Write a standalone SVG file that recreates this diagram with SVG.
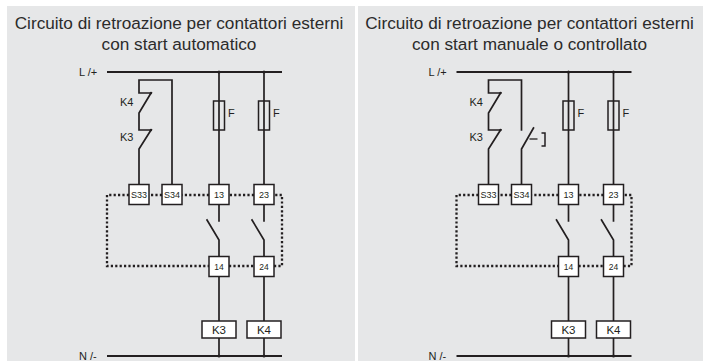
<svg xmlns="http://www.w3.org/2000/svg" width="703" height="361" viewBox="0 0 703 361">
<style>
.bg{fill:#e6e7e8}
.t{font-family:"Liberation Sans",Arial,sans-serif;fill:#231f20}
.title{font-size:17.2px;text-anchor:middle;fill:#2b2b2b}
.w{fill:none;stroke:#231f20;stroke-width:1.7;stroke-linecap:square}
.bus{fill:none;stroke:#231f20;stroke-width:2}
.box{fill:#fff;stroke:#231f20;stroke-width:1.5}
.fuse{fill:none;stroke:#231f20;stroke-width:1.5}
.dot{fill:none;stroke:#231f20;stroke-width:2.3;stroke-dasharray:2.2 2.2}
.lbl{font-size:11px}
.bl{font-size:9px;text-anchor:middle}
.kl{font-size:11.5px;text-anchor:middle}
</style>
<rect class="bg" x="7" y="6" width="348" height="355"/>
<rect class="bg" x="358" y="6" width="345" height="355"/>
<text class="t title" x="179" y="29">Circuito di retroazione per contattori esterni</text>
<text class="t title" x="179" y="50">con start automatico</text>
<text class="t title" x="529.5" y="29">Circuito di retroazione per contattori esterni</text>
<text class="t title" x="529.5" y="50">con start manuale o controllato</text>

<g id="left">
 <g id="connectors-left">
  <line class="bus" x1="107" y1="72" x2="282" y2="72"/>
  <line class="bus" x1="107" y1="356" x2="282" y2="356"/>
  <path class="dot" d="M129 195 H107 V266 H209 M229 266 H254 M274 266 H282 V195 H274 M254 195 H229 M209 195 H182 M162 195 H149"/>
  <path class="w" d="M139 184 V149 L151 130 H139 V113 L151 93 H139 V80 H172 V184"/>
  <path class="w" d="M219 72 V184 M219 204 V221 M207 220 L219 240 V256 M219 276 V321 M219 338 V356"/>
  <path class="w" d="M264 72 V184 M264 204 V221 M252 220 L264 240 V256 M264 276 V321 M264 338 V356"/>
  <circle cx="151" cy="93" r="1.2" fill="#231f20"/>
  <circle cx="151" cy="130" r="1.2" fill="#231f20"/>
  <circle cx="219" cy="72" r="1.5" fill="#231f20"/>
  <circle cx="264" cy="72" r="1.5" fill="#231f20"/>
  <circle cx="219" cy="356" r="1.5" fill="#231f20"/>
  <circle cx="264" cy="356" r="1.5" fill="#231f20"/>
 </g>
 <text class="t lbl" x="79" y="76">L /+</text>
 <text class="t lbl" x="79" y="360">N /-</text>
 <text class="t lbl" x="120" y="106">K4</text>
 <text class="t lbl" x="120" y="141">K3</text>
 <g id="fuse1"><rect class="fuse" x="213.5" y="101" width="11" height="29"/><text class="t lbl" x="228" y="117">F</text></g>
 <g id="fuse2"><rect class="fuse" x="258.5" y="101" width="11" height="29"/><text class="t lbl" x="273" y="117">F</text></g>
 <g id="S33"><rect class="box" x="129" y="184.5" width="20" height="20"/><text class="t bl" x="139" y="198">S33</text></g>
 <g id="S34"><rect class="box" x="162" y="184.5" width="20" height="20"/><text class="t bl" x="172" y="198">S34</text></g>
 <g id="T13"><rect class="box" x="209" y="184.5" width="20" height="20"/><text class="t bl" x="219" y="198">13</text></g>
 <g id="T23"><rect class="box" x="254" y="184.5" width="20" height="20"/><text class="t bl" x="264" y="198">23</text></g>
 <g id="T14"><rect class="box" x="209" y="256.5" width="20" height="20"/><text class="t bl" x="219" y="270" style="font-size:8.5px">14</text></g>
 <g id="T24"><rect class="box" x="254" y="256.5" width="20" height="20"/><text class="t bl" x="264" y="270" style="font-size:8.5px">24</text></g>
 <g id="K3"><rect class="box" x="202" y="321" width="34" height="17"/><text class="t kl" x="219" y="333.5">K3</text></g>
 <g id="K4"><rect class="box" x="247" y="321" width="34" height="17"/><text class="t kl" x="264" y="333.5">K4</text></g>
</g>

<g id="right" transform="translate(349.5,0)">
 <g id="connectors-right">
  <line class="bus" x1="107" y1="72" x2="282" y2="72"/>
  <line class="bus" x1="107" y1="356" x2="282" y2="356"/>
  <path class="dot" d="M129 195 H107 V266 H209 M229 266 H254 M274 266 H282 V195 H274 M254 195 H229 M209 195 H182 M162 195 H149"/>
  <path class="w" d="M139 184 V149 L151 130 H139 V113 L151 93 H139 V80 H172 V130"/>
  <path class="w" d="M172 184 V149 L184 128"/>
  <path d="M180 139 H188" stroke="#231f20" stroke-width="1.3" fill="none"/>
  <path d="M192 133 H195.5 V146 H192" stroke="#231f20" stroke-width="1.5" fill="none"/>
  <path class="w" d="M219 72 V184 M219 204 V221 M207 220 L219 240 V256 M219 276 V321 M219 338 V356"/>
  <path class="w" d="M264 72 V184 M264 204 V221 M252 220 L264 240 V256 M264 276 V321 M264 338 V356"/>
  <circle cx="151" cy="93" r="1.2" fill="#231f20"/>
  <circle cx="151" cy="130" r="1.2" fill="#231f20"/>
  <circle cx="219" cy="72" r="1.5" fill="#231f20"/>
  <circle cx="264" cy="72" r="1.5" fill="#231f20"/>
  <circle cx="219" cy="356" r="1.5" fill="#231f20"/>
  <circle cx="264" cy="356" r="1.5" fill="#231f20"/>
 </g>
 <text class="t lbl" x="79" y="76">L /+</text>
 <text class="t lbl" x="79" y="360">N /-</text>
 <text class="t lbl" x="120" y="106">K4</text>
 <text class="t lbl" x="120" y="141">K3</text>
 <g id="fuse1b"><rect class="fuse" x="213.5" y="101" width="11" height="29"/><text class="t lbl" x="228" y="117">F</text></g>
 <g id="fuse2b"><rect class="fuse" x="258.5" y="101" width="11" height="29"/><text class="t lbl" x="273" y="117">F</text></g>
 <g id="S33b"><rect class="box" x="129" y="184.5" width="20" height="20"/><text class="t bl" x="139" y="198">S33</text></g>
 <g id="S34b"><rect class="box" x="162" y="184.5" width="20" height="20"/><text class="t bl" x="172" y="198">S34</text></g>
 <g id="T13b"><rect class="box" x="209" y="184.5" width="20" height="20"/><text class="t bl" x="219" y="198">13</text></g>
 <g id="T23b"><rect class="box" x="254" y="184.5" width="20" height="20"/><text class="t bl" x="264" y="198">23</text></g>
 <g id="T14b"><rect class="box" x="209" y="256.5" width="20" height="20"/><text class="t bl" x="219" y="270" style="font-size:8.5px">14</text></g>
 <g id="T24b"><rect class="box" x="254" y="256.5" width="20" height="20"/><text class="t bl" x="264" y="270" style="font-size:8.5px">24</text></g>
 <g id="K3b"><rect class="box" x="202" y="321" width="34" height="17"/><text class="t kl" x="219" y="333.5">K3</text></g>
 <g id="K4b"><rect class="box" x="247" y="321" width="34" height="17"/><text class="t kl" x="264" y="333.5">K4</text></g>
</g>
</svg>
